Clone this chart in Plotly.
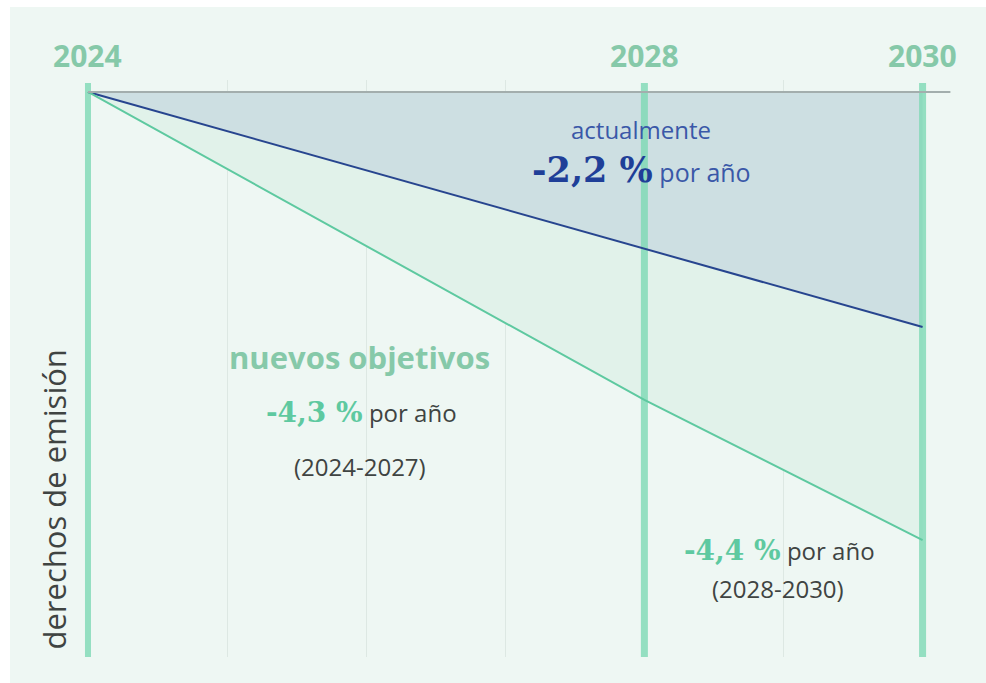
import plotly.graph_objects as go

# ---- data ----
years = [2024, 2028, 2030]
actual = [100, 72.2, 58.4]          # actualmente -2,2 % por año
nuevos = [100, 45.5, 20.7]          # nuevos objetivos
techo = [100, 100, 100]             # nivel inicial
hitos = [2024, 2028, 2030]          # años destacados
rejilla = [2025, 2026, 2027, 2029]  # líneas finas

BG = "#eef7f3"
MINT = "#86c9a9"
GREEN = "#5ec9a0"
BLUE = "#27458f"
GRAY_TXT = "#3f4442"

fig = go.Figure()

# fills (no lines)
fig.add_trace(go.Scatter(x=years, y=techo, mode="lines", line=dict(width=0, color="rgba(0,0,0,0)"),
                         hoverinfo="skip", showlegend=False))
fig.add_trace(go.Scatter(x=years, y=actual, mode="lines", line=dict(width=0, color="rgba(0,0,0,0)"),
                         fill="tonexty", fillcolor="#cddfe2", hoverinfo="skip", showlegend=False))
fig.add_trace(go.Scatter(x=years, y=nuevos, mode="lines", line=dict(width=0, color="rgba(0,0,0,0)"),
                         fill="tonexty", fillcolor="#e1f2ea", hoverinfo="skip", showlegend=False))

# thick vertical lines for milestone years
for i, yr in enumerate(hitos):
    fig.add_trace(go.Scatter(x=[yr, yr], y=[0, 101.6], mode="lines",
                             line=dict(width=6 if i == 0 else 7, color="rgba(125,216,180,0.8)"),
                             hoverinfo="skip", showlegend=False))

# top gray line
fig.add_shape(type="line", x0=years[0], x1=years[-1] + 0.2, y0=techo[0], y1=techo[-1],
              line=dict(color="#a3aead", width=2), layer="above")

# data lines
fig.add_trace(go.Scatter(x=years, y=actual, mode="lines", line=dict(width=2, color=BLUE),
                         showlegend=False, name="actualmente"))
fig.add_trace(go.Scatter(x=years, y=nuevos, mode="lines", line=dict(width=2, color=GREEN),
                         showlegend=False, name="nuevos objetivos"))

# year labels on top
for yr in hitos:
    fig.add_annotation(x=yr, y=1.0416, xref="x", yref="paper", text=f"<b>{yr}</b>",
                       showarrow=False, font=dict(family="Open Sans", size=30, color=MINT),
                       xanchor="center", yanchor="middle")

SERIF = "DejaVu Serif"

fig.add_annotation(x=2027.976, y=93.3, text="actualmente", showarrow=False,
                   font=dict(family="Open Sans", size=24, color="#3a58a8"))
fig.add_annotation(x=2027.976, y=86.2,
                   text=f"<b><span style='font-family:{SERIF};font-size:35px;color:#1f3f98'>-2,2 %</span></b> por año",
                   showarrow=False, font=dict(family="Open Sans", size=25, color="#3a58a8"))

fig.add_annotation(x=2025.955, y=53.1, text="<b>nuevos objetivos</b>", showarrow=False,
                   font=dict(family="Open Sans", size=31, color=MINT))
fig.add_annotation(x=2025.963, y=43.2,
                   text=f"<b><span style='font-family:{SERIF};font-size:28px;color:{GREEN}'>-4,3 %</span></b> por año",
                   showarrow=False, font=dict(family="Open Sans", size=24, color=GRAY_TXT))
fig.add_annotation(x=2025.955, y=33.8, text="(2024-2027)", showarrow=False,
                   font=dict(family="Open Sans", size=24, color=GRAY_TXT))

fig.add_annotation(x=2028.968, y=18.9,
                   text=f"<b><span style='font-family:{SERIF};font-size:28px;color:{GREEN}'>-4,4 %</span></b> por año",
                   showarrow=False, font=dict(family="Open Sans", size=24, color=GRAY_TXT))
fig.add_annotation(x=2028.96, y=12.2, text="(2028-2030)", showarrow=False,
                   font=dict(family="Open Sans", size=24, color=GRAY_TXT))

# y axis title (rotated)
fig.add_annotation(x=2023.757, y=1.0, xref="x", yref="y", text="derechos de emisión", textangle=-90,
                   showarrow=False, font=dict(family="Open Sans", size=31, color=GRAY_TXT),
                   xanchor="center", yanchor="bottom")

# mint background panel
fig.add_shape(type="rect", xref="paper", yref="paper", x0=-0.0326, x1=1.03, y0=-0.05, y1=1.1265,
              fillcolor=BG, line=dict(width=0), layer="below")

fig.update_layout(
    width=986, height=683,
    margin=dict(l=40, r=26, t=80, b=26),
    paper_bgcolor="white", plot_bgcolor=BG,
    xaxis=dict(range=[2023.655, 2030.269], tickvals=rejilla, showticklabels=False, ticks="",
               showgrid=True, gridcolor="#dde8e3", gridwidth=1, zeroline=False, showline=False,
               fixedrange=True),
    yaxis=dict(range=[0, 102.12], showticklabels=False, showgrid=False, zeroline=False,
               showline=False, ticks="", fixedrange=True),
    showlegend=False,
)

fig.write_html("out.html")
